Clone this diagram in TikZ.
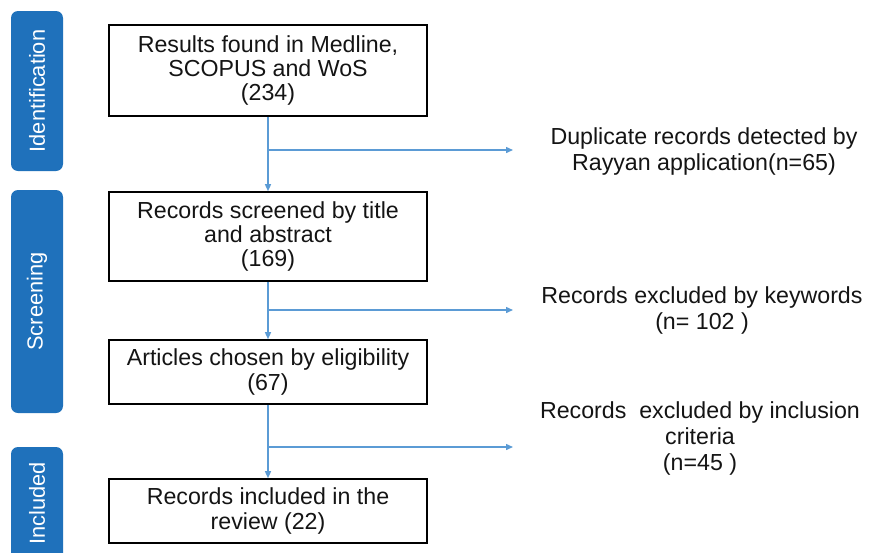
\documentclass[tikz,border=0pt]{standalone}
\usepackage{fontspec}
\setmainfont{Liberation Sans}
\usetikzlibrary{arrows.meta}

\definecolor{stagebar}{RGB}{31,113,187}
\definecolor{flowline}{RGB}{91,155,213}
\definecolor{boxtext}{RGB}{20,20,20}

\begin{document}
\begin{tikzpicture}[x=1pt,y=-1pt,
    stage/.style={fill=stagebar, rounded corners=7pt, rotate=90, minimum height=52pt,
        inner sep=0pt, text=white, font=\fontsize{21.8}{24}\selectfont},
    flowbox/.style={draw=black, line width=1.6pt, minimum width=318pt, align=center,
        text=boxtext, font=\fontsize{23.2}{24.2}\selectfont},
    sidetext/.style={align=center, text=boxtext, font=\fontsize{23.2}{26}\selectfont},
    conn/.style={draw=flowline, line width=1.4pt, -{Triangle[length=7pt,width=6pt]}}]
\useasboundingbox (0,0) rectangle (870,552);

% stage bars
\node[stage, minimum width=160pt] (ident) at (37,91) {Identification};
\node[stage, minimum width=223pt] (screen) at (37,301.5) {Screening};
\node[stage, minimum width=113pt] (incl) at (37,503.5) {Included};

% main boxes
\node[flowbox, minimum height=91pt] (found) at (268,70.5)
    {Results found in Medline,\\SCOPUS and WoS\\(234)};
\node[flowbox, minimum height=89pt] (screened) at (268,236.5)
    {Records screened by title\\and abstract\\(169)};
\node[flowbox, minimum height=64pt] (chosen) at (268,372)
    {Articles chosen by eligibility\\(67)};
\node[flowbox, minimum height=64pt] (included) at (268,511)
    {Records included in the\\review (22)};

% excluded records
\node[sidetext] (dup) at (704,151) {Duplicate records detected by\\Rayyan application(n=65)};
\node[sidetext] (kw) at (702,310) {Records excluded by keywords\\(n= 102 )};
\node[sidetext] (crit) at (700,438) {Records\ \ excluded by inclusion\\criteria\\(n=45 )};

\coordinate (b1) at (268,150);
\coordinate (e1) at (513,150);
\coordinate (b2) at (268,310);
\coordinate (e2) at (513,310);
\coordinate (b3) at (268,447);
\coordinate (e3) at (513,447);

\draw[conn] (found.south) -- (screened.north);
\draw[conn] (b1) -- (e1);
\draw[conn] (screened.south) -- (chosen.north);
\draw[conn] (b2) -- (e2);
\draw[conn] (chosen.south) -- (included.north);
\draw[conn] (b3) -- (e3);
\end{tikzpicture}
\end{document}
